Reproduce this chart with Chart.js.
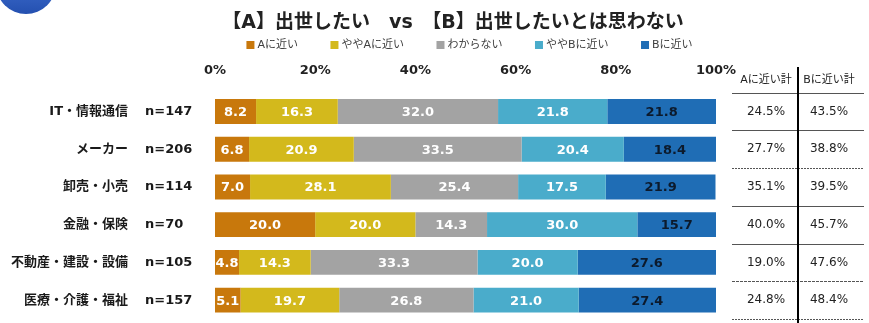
<!DOCTYPE html>
<html>
<head>
<meta charset="utf-8">
<script src="https://cdn.jsdelivr.net/npm/chart.js@4/dist/chart.umd.min.js"></script>
<style>
  html, body { margin: 0; padding: 0; background: #ffffff; }
  #wrap { position: relative; width: 869px; height: 323px; }
</style>
</head>
<body>
<div id="wrap"><canvas id="c" width="869" height="323"></canvas></div>
<script>
// Industries and sample sizes
const categories = ['IT・情報通信', 'メーカー', '卸売・小売', '金融・保険', '不動産・建設・設備', '医療・介護・福祉'];
const sampleSizes = ['n=147', 'n=206', 'n=114', 'n=70', 'n=105', 'n=157'];

// Answer shares (%)
const nearA     = [8.2, 6.8, 7.0, 20.0, 4.8, 5.1];
const slightA   = [16.3, 20.9, 28.1, 20.0, 14.3, 19.7];
const unsure    = [32.0, 33.5, 25.4, 14.3, 33.3, 26.8];
const slightB   = [21.8, 20.4, 17.5, 30.0, 20.0, 21.0];
const nearB     = [21.8, 18.4, 21.9, 15.7, 27.6, 27.4];

// Totals shown in the side table
const totalA = ['24.5%', '27.7%', '35.1%', '40.0%', '19.0%', '24.8%'];
const totalB = ['43.5%', '38.8%', '39.5%', '45.7%', '47.6%', '48.4%'];

const seriesNames = ['Aに近い', 'ややAに近い', 'わからない', 'ややBに近い', 'Bに近い'];
const tickValues = [0, 20, 40, 60, 80, 100];

const titleText = '【A】出世したい　vs　【B】出世したいとは思わない';
const tableHeaders = ['Aに近い計', 'Bに近い計'];

const FONT = "'DejaVu Sans', 'Noto Sans CJK JP', sans-serif";
const colors = ['#c8780c', '#d3b91c', '#a3a3a3', '#4aaccb', '#1f6db5'];
const labelColors = ['#ffffff', '#ffffff', '#ffffff', '#ffffff', '#0c1a2c'];

const decorPlugin = {
  id: 'decor',
  beforeDraw(chart) {
    const ctx = chart.ctx;
    ctx.save();
    // corner badge
    const g = ctx.createLinearGradient(0, -40, 0, 14);
    g.addColorStop(0, '#4f7fe0');
    g.addColorStop(1, '#2450b0');
    ctx.fillStyle = g;
    ctx.beginPath();
    ctx.arc(26, -16, 30, 0, Math.PI * 2);
    ctx.fill();

    // title
    ctx.fillStyle = '#222222';
    ctx.font = 'bold 19px ' + FONT;
    ctx.textAlign = 'center';
    ctx.textBaseline = 'middle';
    ctx.fillText(titleText, 453, 23);

    // legend
    ctx.font = '11px ' + FONT;
    ctx.textAlign = 'left';
    const gap = 32.5;
    const widths = chart.data.datasets.map(ds => 11 + ctx.measureText(ds.label).width);
    const total = widths.reduce((a, b) => a + b, 0) + gap * (widths.length - 1);
    let x = 469.5 - total / 2;
    chart.data.datasets.forEach((ds, i) => {
      ctx.fillStyle = ds.backgroundColor;
      ctx.fillRect(x, 41, 8, 8);
      ctx.fillStyle = '#404040';
      ctx.fillText(ds.label, x + 11, 45.5);
      x += widths[i] + gap;
    });
    ctx.restore();
  },
  afterDraw(chart) {
    const ctx = chart.ctx;
    const y = chart.scales.y;
    const area = chart.chartArea;
    ctx.save();

    // value labels inside each segment
    ctx.font = 'bold 13px ' + FONT;
    ctx.textAlign = 'center';
    ctx.textBaseline = 'middle';
    chart.data.datasets.forEach((ds, di) => {
      const meta = chart.getDatasetMeta(di);
      meta.data.forEach((bar, i) => {
        const right = Math.min(bar.x, area.right);
        const cx = (bar.base + right) / 2;
        ctx.fillStyle = labelColors[di];
        ctx.fillText(ds.data[i].toFixed(1), cx, bar.y + 1);
      });
    });

    // row labels
    categories.forEach((name, i) => {
      const py = y.getPixelForValue(i);
      ctx.fillStyle = '#1a1a1a';
      ctx.font = 'bold 13px ' + FONT;
      ctx.textAlign = 'right';
      ctx.fillText(name, 128, py);
      ctx.textAlign = 'left';
      ctx.fillText(sampleSizes[i], 145, py);
    });

    // side table
    const half = (y.getPixelForValue(1) - y.getPixelForValue(0)) / 2;
    const colA = 766, colB = 829, lineL = 732, lineR = 864;
    ctx.fillStyle = '#222222';
    ctx.font = '11px ' + FONT;
    ctx.textAlign = 'center';
    ctx.fillText(tableHeaders[0], colA, 80);
    ctx.fillText(tableHeaders[1], colB, 80);

    const lineStyles = [[], [], [2, 1], [], [], [3, 1], [2, 1]];
    for (let i = 0; i <= categories.length; i++) {
      const ly = Math.round(y.getPixelForValue(i) - half) + 0.5;
      ctx.strokeStyle = '#555555';
      ctx.lineWidth = 1;
      ctx.setLineDash(lineStyles[i]);
      ctx.beginPath();
      ctx.moveTo(lineL, ly);
      ctx.lineTo(lineR, ly);
      ctx.stroke();
    }
    ctx.setLineDash([]);
    ctx.strokeStyle = '#000000';
    ctx.lineWidth = 2;
    ctx.beginPath();
    ctx.moveTo(798, 67);
    ctx.lineTo(798, 323);
    ctx.stroke();

    ctx.font = '12px ' + FONT;
    ctx.fillStyle = '#222222';
    categories.forEach((_, i) => {
      const py = y.getPixelForValue(i);
      ctx.fillText(totalA[i], colA, py);
      ctx.fillText(totalB[i], colB, py);
    });
    ctx.restore();
  }
};

const seriesValues = [nearA, slightA, unsure, slightB, nearB];

new Chart(document.getElementById('c'), {
  type: 'bar',
  data: {
    labels: categories,
    datasets: seriesValues.map((vals, i) => ({
      label: seriesNames[i],
      data: vals,
      backgroundColor: colors[i],
      borderWidth: 0,
      barPercentage: 0.66,
      categoryPercentage: 1.0
    }))
  },
  options: {
    indexAxis: 'y',
    responsive: false,
    animation: false,
    events: [],
    layout: { padding: { left: 215, right: 153, top: 49, bottom: 4 } },
    plugins: {
      legend: { display: false },
      title: { display: false },
      tooltip: { enabled: false }
    },
    scales: {
      x: {
        position: 'top',
        stacked: true,
        min: 0,
        max: 100,
        afterBuildTicks(scale) {
          scale.ticks = tickValues.map(v => ({ value: v }));
        },
        grid: { display: false, drawTicks: false },
        border: { display: false },
        ticks: {
          padding: 14,
          color: '#222222',
          font: { family: FONT, size: 13, weight: 'bold' },
          callback: v => v + '%'
        }
      },
      y: {
        stacked: true,
        display: false
      }
    }
  },
  plugins: [decorPlugin]
});
</script>
</body>
</html>
